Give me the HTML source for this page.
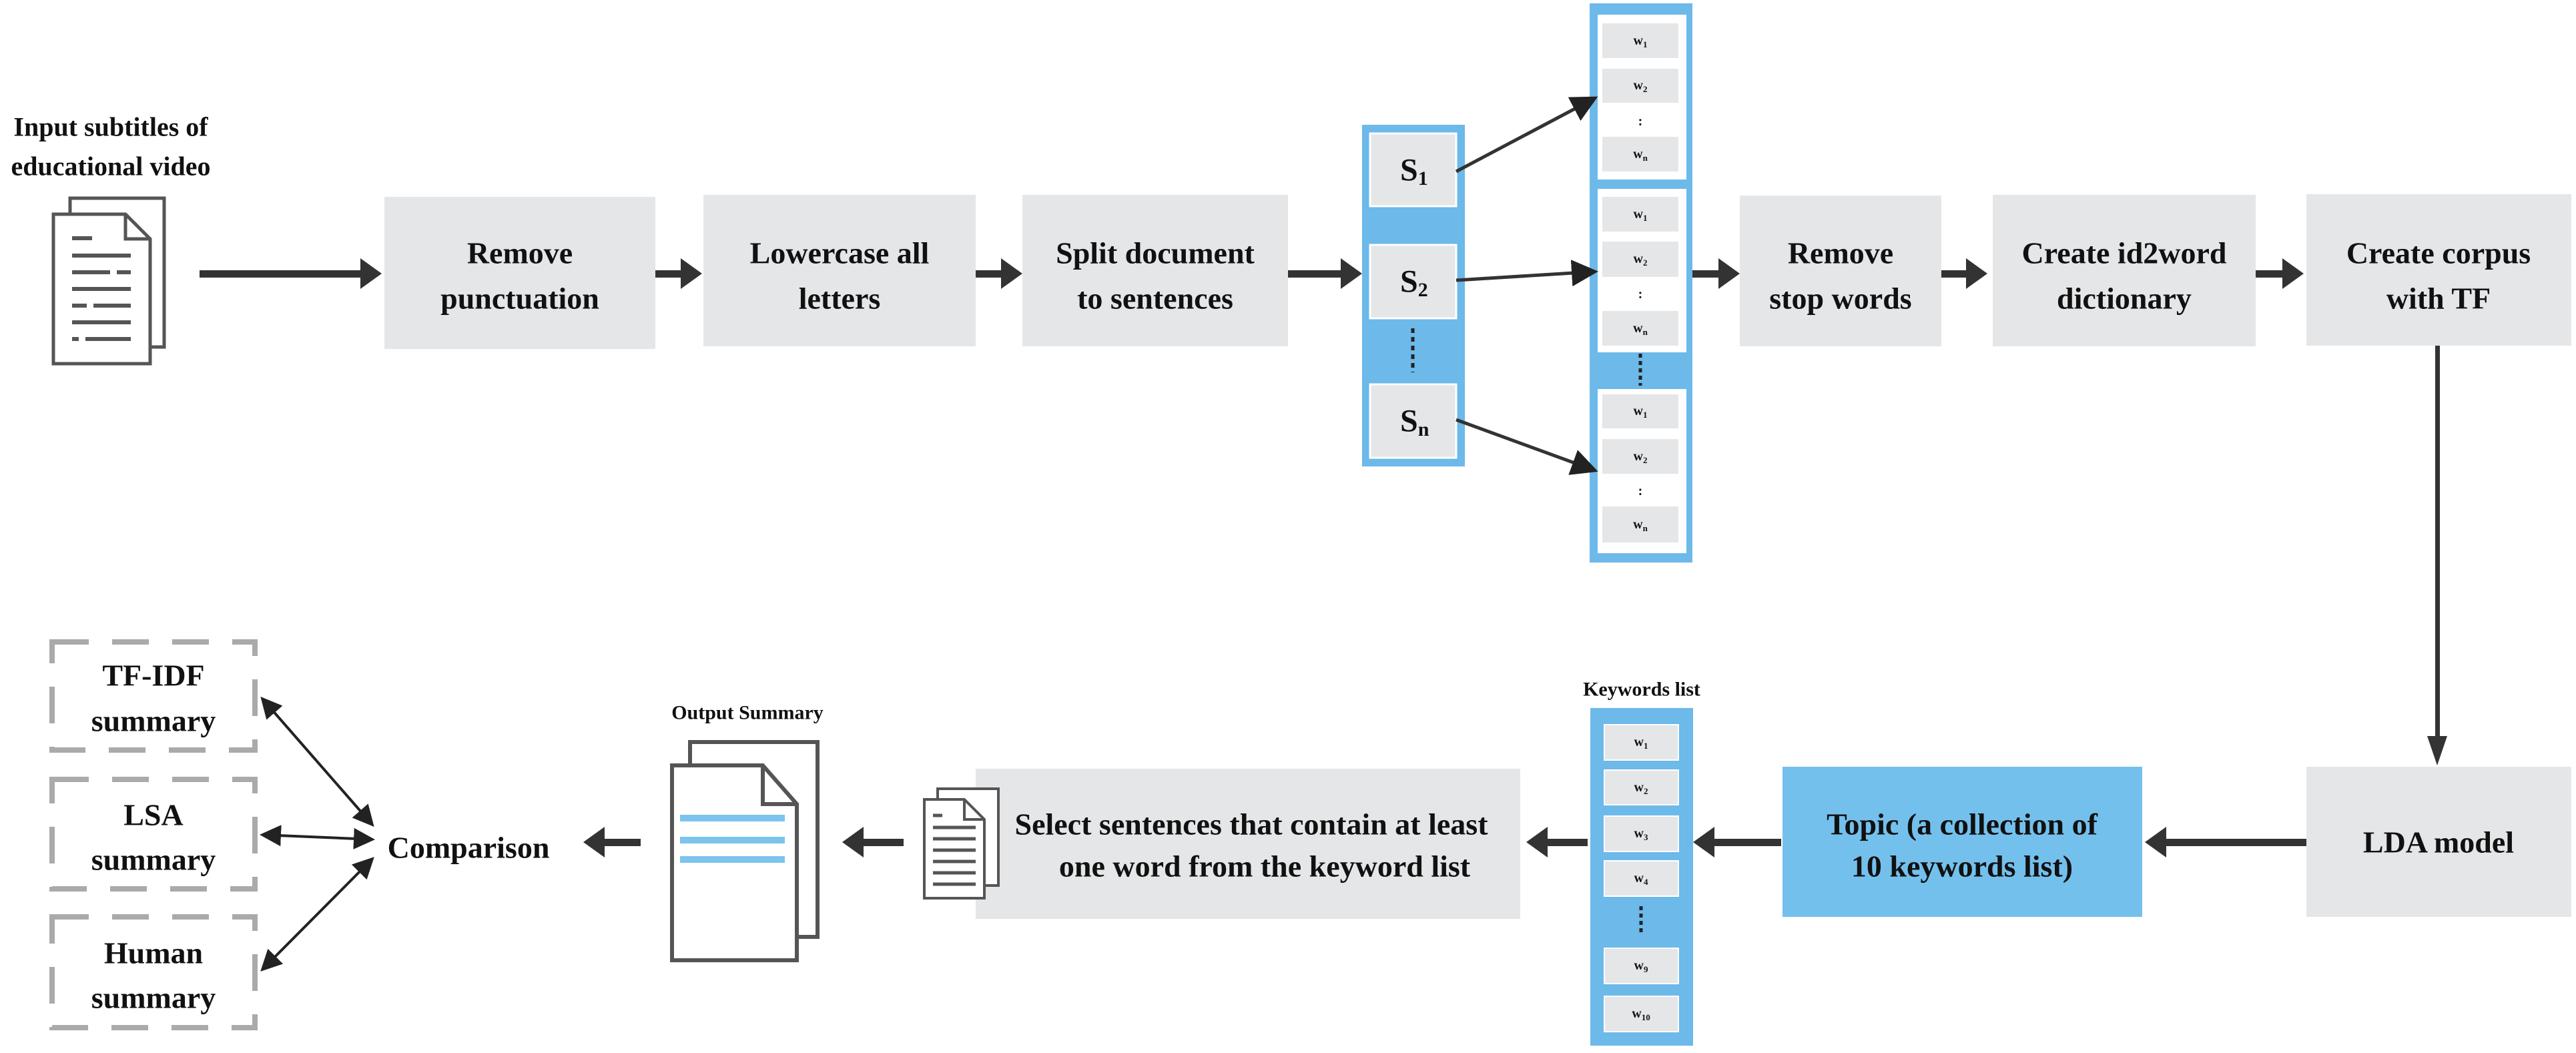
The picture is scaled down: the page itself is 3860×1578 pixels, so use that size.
<!DOCTYPE html>
<html><head><meta charset="utf-8"><style>html,body{margin:0;padding:0;background:#fff}svg{display:block}</style></head><body>
<svg width="3860" height="1578" viewBox="0 0 3860 1578" xmlns="http://www.w3.org/2000/svg" font-family="'Liberation Serif',serif" font-weight="bold" fill="#111">
<defs>
<marker id="ah" markerWidth="8" markerHeight="8" refX="7" refY="4" orient="auto" markerUnits="strokeWidth"><path d="M0,0 L8,4 L0,8 z" fill="#222"/></marker>
<marker id="ahs" markerWidth="8" markerHeight="8" refX="1" refY="4" orient="auto" markerUnits="strokeWidth"><path d="M8,0 L0,4 L8,8 z" fill="#222"/></marker>
</defs>
<text x="166" y="190" font-size="40" text-anchor="middle" dominant-baseline="central">Input subtitles of</text>
<text x="166" y="249" font-size="40" text-anchor="middle" dominant-baseline="central">educational video</text>
<rect x="105" y="297" width="141" height="223" fill="#fff" stroke="#555" stroke-width="5"/>
<path d="M80,321 H188 L225,358 V545 H80 Z" fill="#fff" stroke="#555" stroke-width="5"/>
<path d="M188,321 V358 H225" fill="none" stroke="#555" stroke-width="5"/>
<g stroke="#555" stroke-width="6">
<line x1="108" y1="357" x2="138" y2="357"/><line x1="108" y1="383" x2="196" y2="383"/>
<line x1="108" y1="408" x2="165" y2="408"/><line x1="175" y1="408" x2="196" y2="408"/>
<line x1="108" y1="433" x2="196" y2="433"/><line x1="108" y1="458" x2="130" y2="458"/><line x1="140" y1="458" x2="196" y2="458"/>
<line x1="108" y1="483" x2="196" y2="483"/><line x1="108" y1="508" x2="118" y2="508"/><line x1="128" y1="508" x2="196" y2="508"/>
</g>
<g fill="#e4e6e8">
<rect x="576" y="295" width="406" height="228"/>
<rect x="1054" y="292" width="408" height="227"/>
<rect x="1532" y="292" width="398" height="227"/>
<rect x="2607" y="293" width="302" height="226"/>
<rect x="2986" y="292" width="394" height="227"/>
<rect x="3456" y="291" width="397" height="227"/>
<rect x="3456" y="1149" width="397" height="225"/>
<rect x="1462" y="1152" width="816" height="225"/>
</g>
<rect x="2671" y="1149" width="539" height="225" fill="#74c0ed"/>
<g font-size="46" text-anchor="middle" dominant-baseline="central">
<text x="779" y="379">Remove</text><text x="779" y="447">punctuation</text>
<text x="1258" y="379">Lowercase all</text><text x="1258" y="447">letters</text>
<text x="1731" y="379">Split document</text><text x="1731" y="447">to sentences</text>
<text x="2758" y="379">Remove</text><text x="2758" y="447">stop words</text>
<text x="3183" y="379">Create id2word</text><text x="3183" y="447">dictionary</text>
<text x="3654" y="379">Create corpus</text><text x="3654" y="447">with TF</text>
<text x="3654" y="1262">LDA model</text>
<text x="1875" y="1235">Select sentences that contain at least</text>
<text x="1895" y="1298">one word from the keyword list</text>
<text x="2940" y="1235">Topic (a collection of</text>
<text x="2940" y="1298">10 keywords list)</text>
<text x="702" y="1270">Comparison</text>
<text x="230" y="1012">TF-IDF</text><text x="230" y="1080">summary</text>
<text x="230" y="1221">LSA</text><text x="230" y="1288">summary</text>
<text x="230" y="1428">Human</text><text x="230" y="1495">summary</text>
</g>
<g fill="#333" stroke="none">
<rect x="299" y="405" width="245" height="11"/><polygon points="540,387 572,410 540,433"/>
<rect x="982" y="405" width="42" height="11"/><polygon points="1020,387 1052,410 1020,433"/>
<rect x="1462" y="405" width="42" height="11"/><polygon points="1500,387 1532,410 1500,433"/>
<rect x="1930" y="405" width="83" height="11"/><polygon points="2009,387 2041,410 2009,433"/>
<rect x="2536" y="405" width="43" height="11"/><polygon points="2575,387 2607,410 2575,433"/>
<rect x="2909" y="405" width="42" height="11"/><polygon points="2946,387 2978,410 2946,433"/>
<rect x="3380" y="405" width="44" height="11"/><polygon points="3420,387 3452,410 3420,433"/>
<rect x="3649" y="518" width="7" height="590"/><polygon points="3637,1103 3652,1147 3667,1103"/>
<rect x="3242" y="1257" width="214" height="11"/><polygon points="3246,1239 3214,1262 3246,1285"/>
<rect x="2565" y="1257" width="104" height="11"/><polygon points="2569,1239 2537,1262 2569,1285"/>
<rect x="2315" y="1257" width="64" height="11"/><polygon points="2319,1239 2287,1262 2319,1285"/>
<rect x="1290" y="1257" width="64" height="11"/><polygon points="1294,1239 1262,1262 1294,1285"/>
<rect x="902" y="1257" width="58" height="11"/><polygon points="906,1239 874,1262 906,1285"/>
</g>
<rect x="2041" y="187" width="154" height="512" fill="#6cb9ea"/>
<g fill="#e4e6e8" stroke="#fff" stroke-width="3">
<rect x="2053" y="200" width="129" height="109"/>
<rect x="2053" y="367" width="129" height="110"/>
<rect x="2053" y="576" width="129" height="110"/>
</g>
<line x1="2117" y1="492" x2="2117" y2="558" stroke="#222" stroke-width="5" stroke-dasharray="7,6"/>
<g font-size="48" dominant-baseline="central">
<text x="2098" y="255">S<tspan font-size="30" dy="12">1</tspan></text>
<text x="2098" y="422">S<tspan font-size="30" dy="12">2</tspan></text>
<text x="2098" y="631">S<tspan font-size="30" dy="12">n</tspan></text>
</g>
<rect x="2382" y="5" width="154" height="838" fill="#6cb9ea"/>
<g fill="#fff">
<rect x="2394" y="22" width="133" height="247"/>
<rect x="2394" y="283" width="133" height="245"/>
<rect x="2394" y="583" width="133" height="246"/>
</g>
<g fill="#e4e6e8">
<rect x="2401" y="35" width="114" height="52"/><rect x="2401" y="103" width="114" height="51"/><rect x="2401" y="205" width="114" height="52"/>
<rect x="2401" y="295" width="114" height="52"/><rect x="2401" y="362" width="114" height="53"/><rect x="2401" y="466" width="114" height="52"/>
<rect x="2401" y="591" width="114" height="51"/><rect x="2401" y="658" width="114" height="52"/><rect x="2401" y="759" width="114" height="54"/>
</g>
<line x1="2458" y1="530" x2="2458" y2="578" stroke="#222" stroke-width="5" stroke-dasharray="6,5"/>
<g font-size="20" text-anchor="middle" dominant-baseline="central">
<text x="2458" y="61">w<tspan font-size="13" dy="5">1</tspan></text>
<text x="2458" y="128">w<tspan font-size="13" dy="5">2</tspan></text>
<text x="2458" y="182">:</text>
<text x="2458" y="231">w<tspan font-size="13" dy="5">n</tspan></text>
<text x="2458" y="321">w<tspan font-size="13" dy="5">1</tspan></text>
<text x="2458" y="388">w<tspan font-size="13" dy="5">2</tspan></text>
<text x="2458" y="441">:</text>
<text x="2458" y="492">w<tspan font-size="13" dy="5">n</tspan></text>
<text x="2458" y="616">w<tspan font-size="13" dy="5">1</tspan></text>
<text x="2458" y="684">w<tspan font-size="13" dy="5">2</tspan></text>
<text x="2458" y="736">:</text>
<text x="2458" y="786">w<tspan font-size="13" dy="5">n</tspan></text>
</g>
<g stroke="#333" stroke-width="5" fill="none">
<line x1="2182" y1="257" x2="2390" y2="147" marker-end="url(#ah)"/>
<line x1="2182" y1="420" x2="2390" y2="407" marker-end="url(#ah)"/>
<line x1="2182" y1="629" x2="2390" y2="705" marker-end="url(#ah)"/>
</g>
<text x="2460" y="1033" font-size="30" text-anchor="middle" dominant-baseline="central">Keywords list</text>
<rect x="2383" y="1061" width="154" height="506" fill="#6cb9ea"/>
<g fill="#e4e6e8" stroke="#fff" stroke-width="2">
<rect x="2404" y="1086" width="111" height="53"/><rect x="2404" y="1154" width="111" height="52"/>
<rect x="2404" y="1223" width="111" height="53"/><rect x="2404" y="1290" width="111" height="53"/>
<rect x="2404" y="1421" width="111" height="53"/><rect x="2404" y="1493" width="111" height="53"/>
</g>
<line x1="2459" y1="1358" x2="2459" y2="1402" stroke="#222" stroke-width="5" stroke-dasharray="6,5"/>
<g font-size="20" text-anchor="middle" dominant-baseline="central">
<text x="2459" y="1112">w<tspan font-size="13" dy="5">1</tspan></text>
<text x="2459" y="1180">w<tspan font-size="13" dy="5">2</tspan></text>
<text x="2459" y="1249">w<tspan font-size="13" dy="5">3</tspan></text>
<text x="2459" y="1316">w<tspan font-size="13" dy="5">4</tspan></text>
<text x="2459" y="1447">w<tspan font-size="13" dy="5">9</tspan></text>
<text x="2459" y="1519">w<tspan font-size="13" dy="5">10</tspan></text>
</g>
<rect x="1405" y="1182" width="91" height="145" fill="#fff" stroke="#555" stroke-width="4"/>
<path d="M1385,1198 H1445 L1475,1228 V1346 H1385 Z" fill="#fff" stroke="#555" stroke-width="4"/>
<path d="M1445,1198 V1228 H1475" fill="none" stroke="#555" stroke-width="4"/>
<g stroke="#555" stroke-width="5">
<line x1="1398" y1="1222" x2="1412" y2="1222"/><line x1="1398" y1="1240" x2="1462" y2="1240"/>
<line x1="1398" y1="1257" x2="1462" y2="1257"/><line x1="1398" y1="1274" x2="1462" y2="1274"/>
<line x1="1398" y1="1291" x2="1462" y2="1291"/><line x1="1398" y1="1308" x2="1462" y2="1308"/>
<line x1="1398" y1="1325" x2="1462" y2="1325"/>
</g>
<text x="1120" y="1068" font-size="30" text-anchor="middle" dominant-baseline="central">Output Summary</text>
<rect x="1034" y="1112" width="191" height="292" fill="#fff" stroke="#555" stroke-width="6"/>
<path d="M1007,1147 H1143 L1194,1205 V1439 H1007 Z" fill="#fff" stroke="#555" stroke-width="6"/>
<path d="M1143,1147 V1205 H1194" fill="none" stroke="#555" stroke-width="6"/>
<g stroke="#7cc3ee" stroke-width="10">
<line x1="1019" y1="1226" x2="1176" y2="1226"/><line x1="1019" y1="1259" x2="1176" y2="1259"/><line x1="1019" y1="1288" x2="1176" y2="1288"/>
</g>
<g fill="none" stroke="#aaa" stroke-width="8" stroke-dasharray="55,35">
<rect x="78" y="962" width="304" height="162"/>
<rect x="78" y="1168" width="304" height="164"/>
<rect x="78" y="1374" width="304" height="166"/>
</g>
<g stroke="#222" stroke-width="4" fill="none">
<line x1="393" y1="1047" x2="558" y2="1236" marker-start="url(#ahs)" marker-end="url(#ah)"/>
<line x1="393" y1="1251" x2="558" y2="1258" marker-start="url(#ahs)" marker-end="url(#ah)"/>
<line x1="393" y1="1453" x2="558" y2="1287" marker-start="url(#ahs)" marker-end="url(#ah)"/>
</g>
</svg>
</body></html>
